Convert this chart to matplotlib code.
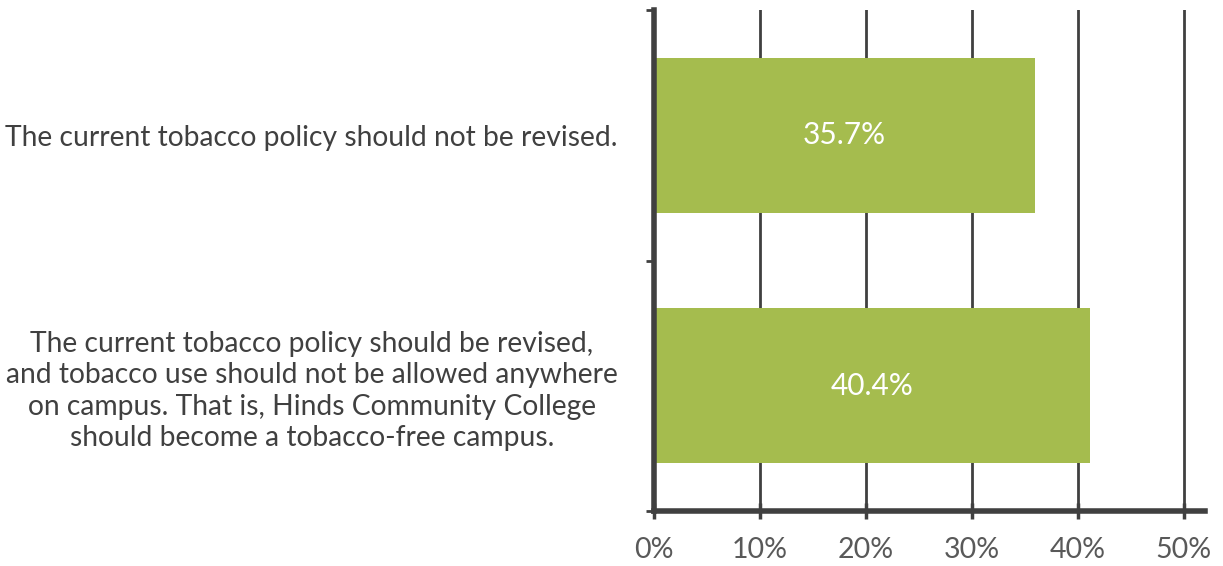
import matplotlib
matplotlib.use("Agg")
import matplotlib.pyplot as plt
from matplotlib.ticker import FixedLocator

categories = [
    "The current tobacco policy should not be revised.",
    "The current tobacco policy should be revised,\nand tobacco use should not be allowed anywhere\non campus. That is, Hinds Community College\nshould become a tobacco-free campus.",
]
values = [36.0, 41.1]
value_labels = ["35.7%", "40.4%"]
xticks = [0, 10, 20, 30, 40, 50]
xtick_labels = ["0%", "10%", "20%", "30%", "40%", "50%"]

plt.rcParams['font.family'] = ['Lato', 'DejaVu Sans']

fig = plt.figure(figsize=(12.23, 5.66), dpi=100)
ax = fig.add_axes([654/1223, 1-511/566, (1205-654)/1223, (511-10)/566])

dark = "#404040"
green = "#A5BC4E"

ypos = list(range(len(categories)))
ax.barh(ypos, values, height=0.62, color=green, zorder=3)
for y, v, lab in zip(ypos, values, value_labels):
    ax.text(v/2, y, lab, color="white", ha="center", va="center", fontsize=21.5, zorder=4)

ax.set_xlim(0, 52)
ax.set_ylim(1.5, -0.5)
ax.set_xticks(xticks)
ax.set_xticklabels(xtick_labels, fontsize=20.5, color="#595959")
ax.set_yticks(ypos)
ax.set_yticklabels(categories, fontsize=20.3, color=dark, multialignment="center",
                   linespacing=1.25)
ax.yaxis.set_minor_locator(FixedLocator([-0.5, 0.5, 1.5]))
ax.tick_params(axis="y", which="major", length=0, pad=26)
ax.tick_params(axis="y", which="minor", length=6, width=2, color=dark)
ax.tick_params(axis="x", which="major", length=12, width=2.5, color=dark, pad=13, direction="inout")

ax.grid(axis="x", color=dark, linewidth=2, zorder=1)
ax.set_axisbelow(True)
for s in ["top", "right"]:
    ax.spines[s].set_visible(False)
for s in ["left", "bottom"]:
    ax.spines[s].set_color(dark)
    ax.spines[s].set_linewidth(4)
    ax.spines[s].set_zorder(5)

fig.savefig("out.png", dpi=100)
